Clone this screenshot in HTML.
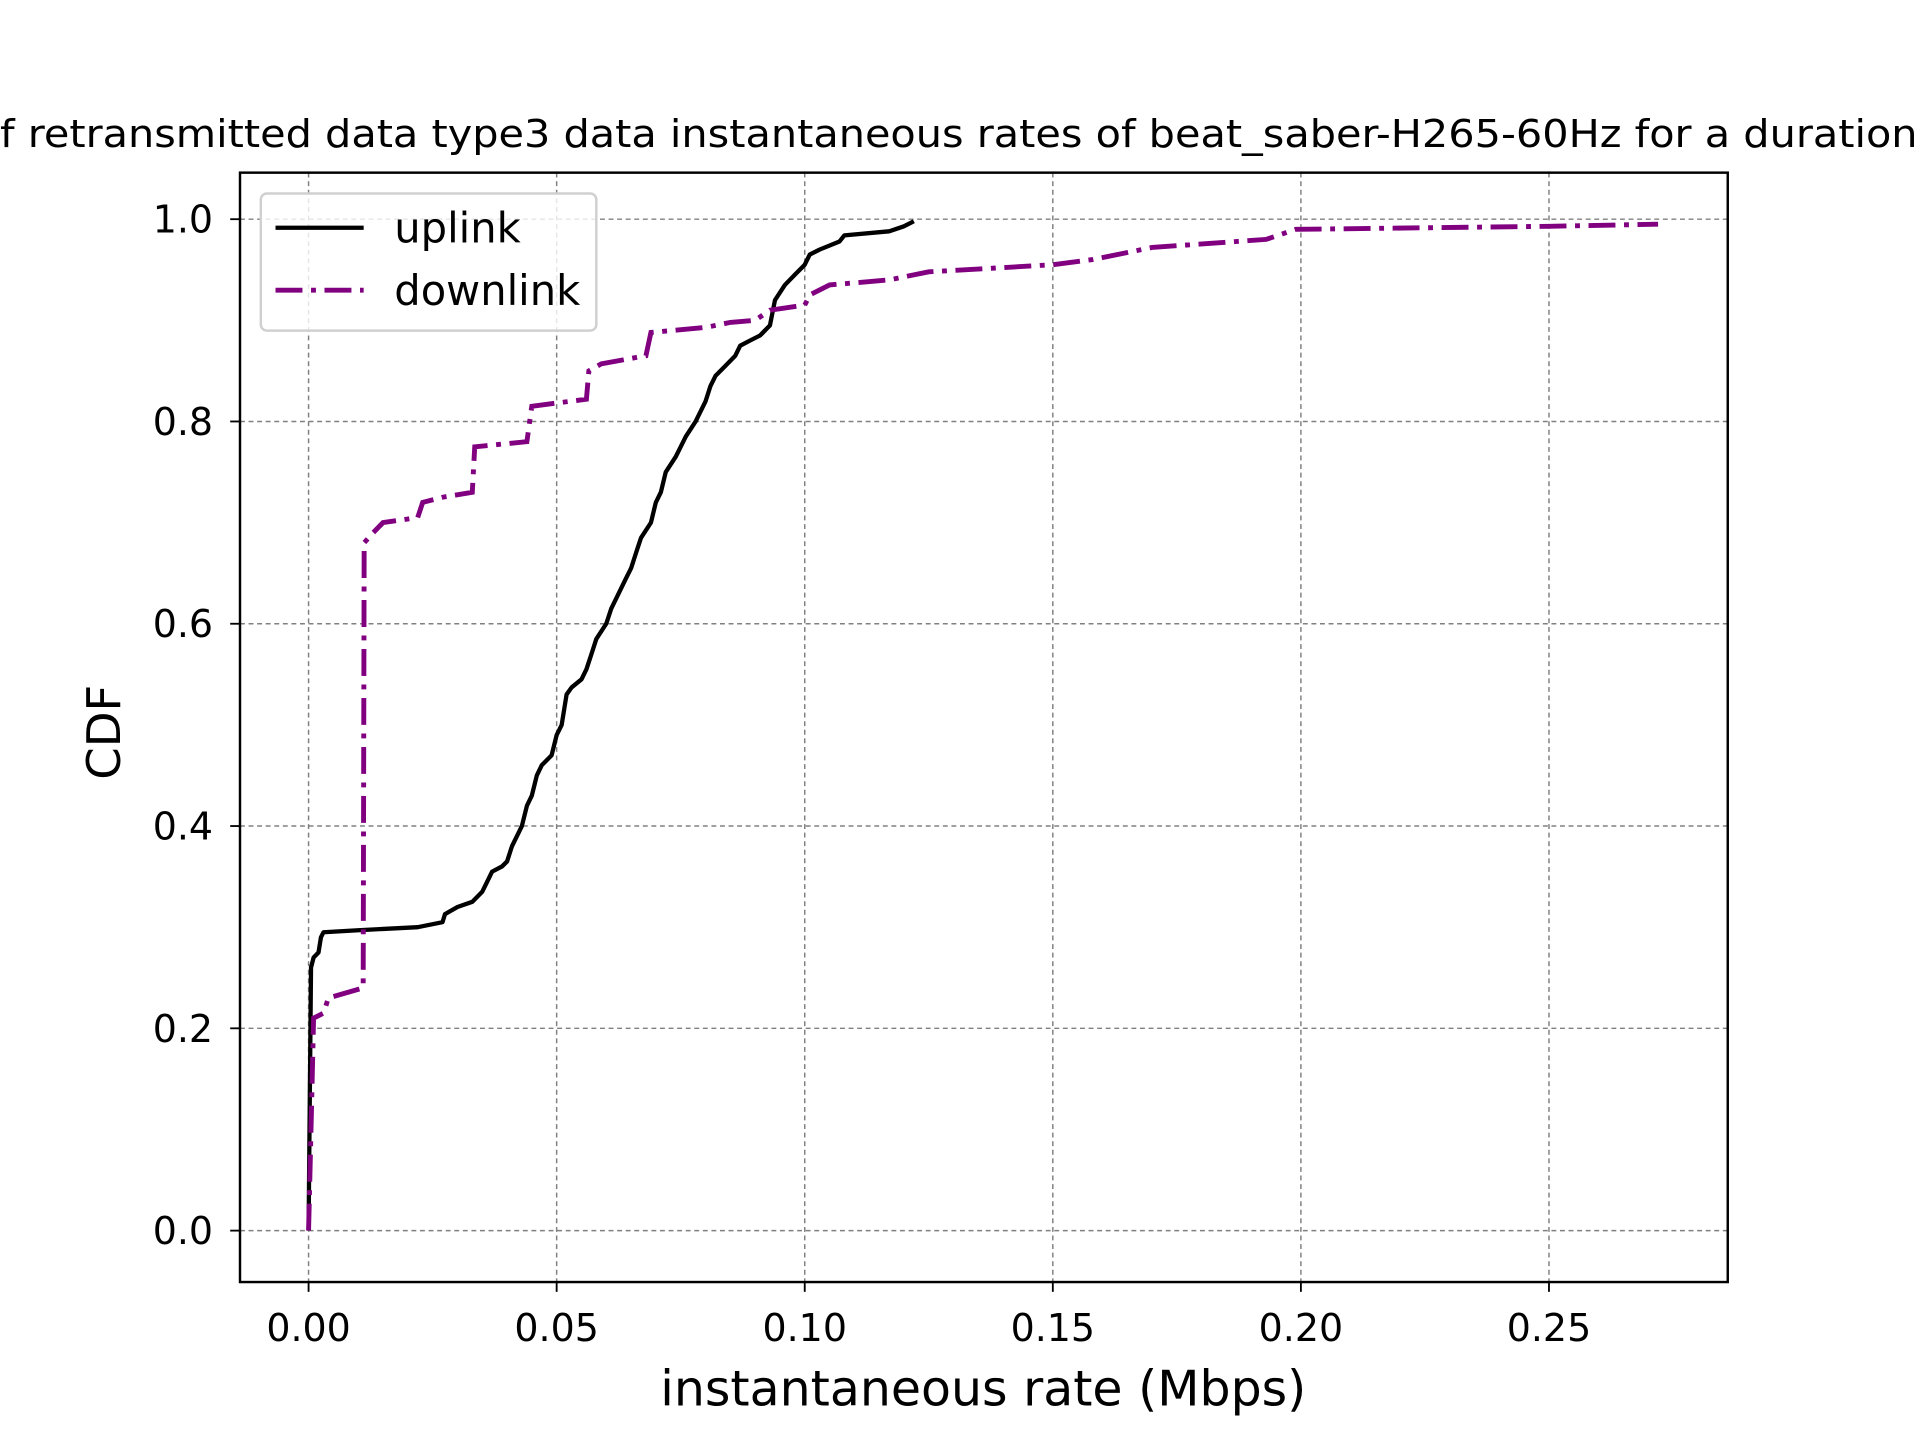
<!DOCTYPE html>
<html><head><meta charset="utf-8"><style>
html,body{margin:0;padding:0;background:#fff;}
svg{display:block;font-family:"DejaVu Sans","Liberation Sans",sans-serif;}
</style></head><body>
<svg id="chart" width="1920" height="1440" viewBox="0 0 1568 1176" xmlns="http://www.w3.org/2000/svg">
<rect width="1568" height="1176" fill="#fff"/>
<text x="0" y="120" font-size="31" textLength="1566" lengthAdjust="spacingAndGlyphs" fill="#000">f retransmitted data type3 data instantaneous rates of beat_saber-H265-60Hz for a duration</text>
<g id="grid"></g>
<g id="ticks"></g>
<g id="series"></g>
<rect x="196" y="141" width="1215" height="906" fill="none" stroke="#000" stroke-width="2"/>
<text x="803" y="1148" font-size="40" text-anchor="middle">instantaneous rate (Mbps)</text>
<text transform="translate(98,598) rotate(-90)" font-size="38" text-anchor="middle">CDF</text>
<g>
<rect x="213" y="158" width="274" height="112" rx="5" fill="#fff" fill-opacity="0.8" stroke="#d0d0d0" stroke-width="2"/>
<line x1="225" y1="186" x2="297" y2="186" stroke="#000" stroke-width="3.5"/>
<text x="322" y="198" font-size="34">uplink</text>
<line x1="225" y1="237" x2="297" y2="237" stroke="#800080" stroke-width="4" stroke-dasharray="22,7,4,7"/>
<text x="322" y="249" font-size="34">downlink</text>
</g>
</svg>
<script>
const xTicks=[0,0.05,0.10,0.15,0.20,0.25];
const xTickLabels=["0.00","0.05","0.10","0.15","0.20","0.25"];
const yTicks=[0,0.2,0.4,0.6,0.8,1.0];
const yTickLabels=["0.0","0.2","0.4","0.6","0.8","1.0"];
const uplinkX=[0,0.0005,0.001,0.002,0.0025,0.003,0.01,0.022,0.027,0.0275,0.03,0.033,0.035,0.036,0.037,0.039,0.04,0.041,0.043,0.044,0.045,0.046,0.047,0.049,0.05,0.051,0.052,0.053,0.055,0.056,0.057,0.058,0.06,0.061,0.062,0.064,0.065,0.066,0.067,0.069,0.07,0.071,0.072,0.074,0.075,0.076,0.078,0.08,0.081,0.082,0.084,0.086,0.087,0.089,0.091,0.093,0.094,0.096,0.098,0.1,0.101,0.103,0.107,0.108,0.117,0.12,0.122];
const uplinkY=[0,0.26,0.27,0.275,0.29,0.295,0.297,0.3,0.305,0.313,0.32,0.325,0.335,0.345,0.355,0.36,0.365,0.38,0.4,0.42,0.43,0.45,0.46,0.47,0.49,0.5,0.53,0.537,0.545,0.555,0.57,0.585,0.6,0.615,0.625,0.645,0.655,0.67,0.685,0.7,0.72,0.73,0.75,0.765,0.775,0.785,0.8,0.82,0.835,0.845,0.855,0.865,0.875,0.88,0.885,0.895,0.92,0.935,0.945,0.955,0.965,0.97,0.978,0.984,0.988,0.993,0.998];
const downX=[0,0.0005,0.001,0.003,0.004,0.011,0.0112,0.013,0.015,0.022,0.023,0.027,0.033,0.0335,0.044,0.045,0.056,0.0565,0.059,0.068,0.069,0.08,0.085,0.09,0.093,0.1,0.101,0.105,0.117,0.125,0.15,0.158,0.17,0.193,0.199,0.25,0.272];
const downY=[0,0.1,0.21,0.215,0.23,0.24,0.68,0.69,0.7,0.705,0.72,0.725,0.73,0.775,0.78,0.815,0.822,0.85,0.857,0.865,0.888,0.893,0.898,0.9,0.91,0.915,0.925,0.935,0.94,0.948,0.955,0.96,0.972,0.98,0.99,0.993,0.995];
const NS="http://www.w3.org/2000/svg";
function sx(v){return 252+v*(1013/0.25);}
function sy(v){return 1005-v*826;}
function mk(tag,attrs,parent){const e=document.createElementNS(NS,tag);for(const k in attrs)e.setAttribute(k,attrs[k]);parent.appendChild(e);return e;}
const grid=document.getElementById('grid'),ticks=document.getElementById('ticks'),series=document.getElementById('series');
xTicks.forEach((v,i)=>{
 const g=mk('line',{x1:sx(v),x2:sx(v),y1:141,y2:1047,stroke:'#808080','stroke-width':1.2,'stroke-dasharray':'4,3'},grid);
 
 
 const t=mk('line',{x1:sx(v),x2:sx(v),y1:1047,y2:1055,stroke:'#000','stroke-width':1.5},ticks);
 
 
 const l=mk('text',{x:sx(v),y:1095,'font-size':31,'text-anchor':'middle'},ticks);
 l.textContent=xTickLabels[i];
 
 
});
yTicks.forEach((v,i)=>{
 const g=mk('line',{x1:196,x2:1411,y1:sy(v),y2:sy(v),stroke:'#808080','stroke-width':1.2,'stroke-dasharray':'4,3'},grid);
 
 
 const t=mk('line',{x1:188,x2:196,y1:sy(v),y2:sy(v),stroke:'#000','stroke-width':1.5},ticks);
 
 
 const l=mk('text',{x:174,y:sy(v)+11,'font-size':31,'text-anchor':'end'},ticks);
 l.textContent=yTickLabels[i];
 
 
});
function pts(xs,ys){return xs.map((x,i)=>sx(x).toFixed(1)+','+sy(ys[i]).toFixed(1)).join(' ');}
const up=mk('polyline',{points:pts(uplinkX,uplinkY),fill:'none',stroke:'#000','stroke-width':3.5,'stroke-linejoin':'round'},series);


const dn=mk('polyline',{points:pts(downX,downY),fill:'none',stroke:'#800080','stroke-width':4,'stroke-dasharray':'22,7,4,7'},series);


</script>
</body></html>
